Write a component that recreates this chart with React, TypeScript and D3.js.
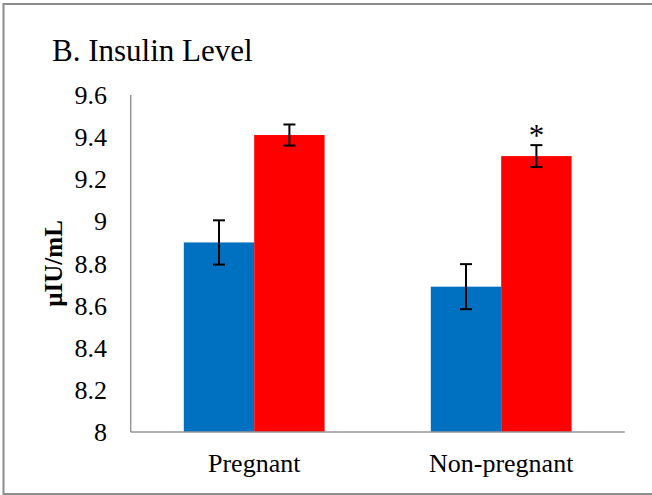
import React, { useEffect, useRef } from 'react';
import * as d3 from 'd3';

const categories = ['Pregnant', 'Non-pregnant'];
const seriesNames = ['Control', 'Treated'];
const seriesColors = ['#0070C0', '#FF0000'];
const means = [
  [8.9, 9.41],
  [8.69, 9.31],
];
const errors = [
  [0.105, 0.05],
  [0.107, 0.052],
];
const significant = [
  [false, false],
  [false, true],
];
const yTicks = [8, 8.2, 8.4, 8.6, 8.8, 9, 9.2, 9.4, 9.6];

const W = 652;
const H = 495;

const App: React.FC = () => {
  const svgRef = useRef<SVGSVGElement>(null);

  useEffect(() => {
    if (!svgRef.current) return;
    const svg = d3.select(svgRef.current);
    svg.selectAll('*').remove();

    const font = '"Liberation Serif", "Times New Roman", serif';
    const left = 130.7, right = 624.7, top = 95, bottom = 432;

    // outer frame (right edge runs off the picture)
    svg.append('rect')
      .attr('x', 3.5).attr('y', 4).attr('width', W + 10).attr('height', 490)
      .attr('fill', '#fff').attr('stroke', '#8c8c8c').attr('stroke-width', 2);

    const y = d3.scaleLinear().domain([8, 9.6]).range([bottom, top]);
    const x0 = d3.scaleBand<string>().domain(categories).range([left, right])
      .paddingInner(0.43).paddingOuter(0.215);
    const x1 = d3.scaleBand<number>().domain(d3.range(seriesNames.length))
      .range([0, x0.bandwidth()]);

    svg.append('text')
      .attr('x', 52).attr('y', 61)
      .attr('font-family', font).attr('font-size', 31)
      .attr('fill', '#000')
      .text('B. Insulin Level');

    // y tick labels
    yTicks.forEach(t => {
      svg.append('text')
        .attr('x', 107).attr('y', y(t))
        .attr('dy', '0.35em')
        .attr('text-anchor', 'end')
        .attr('font-family', font).attr('font-size', 26)
        .text(d3.format('~g')(t));
    });

    svg.append('text')
      .attr('transform', `translate(62,${(top + bottom) / 2}) rotate(-90)`)
      .attr('text-anchor', 'middle')
      .attr('font-family', font).attr('font-size', 25).attr('font-weight', 'bold')
      .text('µIU/mL');

    // bars
    categories.forEach((c, ci) => {
      const g = svg.append('g').attr('transform', `translate(${x0(c)},0)`);
      means[ci].forEach((v, si) => {
        const bx = x1(si)!;
        const bw = x1.bandwidth();
        g.append('rect')
          .attr('x', bx).attr('y', y(v))
          .attr('width', bw).attr('height', y(8) - y(v))
          .attr('fill', seriesColors[si]);

        const cx = bx + bw / 2;
        const e = errors[ci][si];
        const eb = g.append('g').attr('stroke', '#000').attr('stroke-width', 2);
        eb.append('line').attr('x1', cx).attr('x2', cx).attr('y1', y(v + e)).attr('y2', y(v - e));
        eb.append('line').attr('x1', cx - 6).attr('x2', cx + 6).attr('y1', y(v + e)).attr('y2', y(v + e));
        eb.append('line').attr('x1', cx - 6).attr('x2', cx + 6).attr('y1', y(v - e)).attr('y2', y(v - e));

        if (significant[ci][si]) {
          g.append('text')
            .attr('x', cx).attr('y', y(v + e) + 1)
            .attr('text-anchor', 'middle')
            .attr('font-family', font).attr('font-size', 31)
            .text('*');
        }
      });

      svg.append('text')
        .attr('x', x0(c)! + x0.bandwidth() / 2).attr('y', 472)
        .attr('text-anchor', 'middle')
        .attr('font-family', font).attr('font-size', 26)
        .text(c);
    });

    // axes lines
    svg.append('line')
      .attr('x1', left).attr('x2', left).attr('y1', top).attr('y2', bottom)
      .attr('stroke', '#969696').attr('stroke-width', 1.5);
    svg.append('line')
      .attr('x1', left).attr('x2', right).attr('y1', bottom).attr('y2', bottom)
      .attr('stroke', '#969696').attr('stroke-width', 1.5);
  }, []);

  return (
    <svg
      ref={svgRef}
      width={W}
      height={H}
      style={{ position: 'absolute', left: 0, top: 0, background: '#fff' }}
    />
  );
};

export default App;
